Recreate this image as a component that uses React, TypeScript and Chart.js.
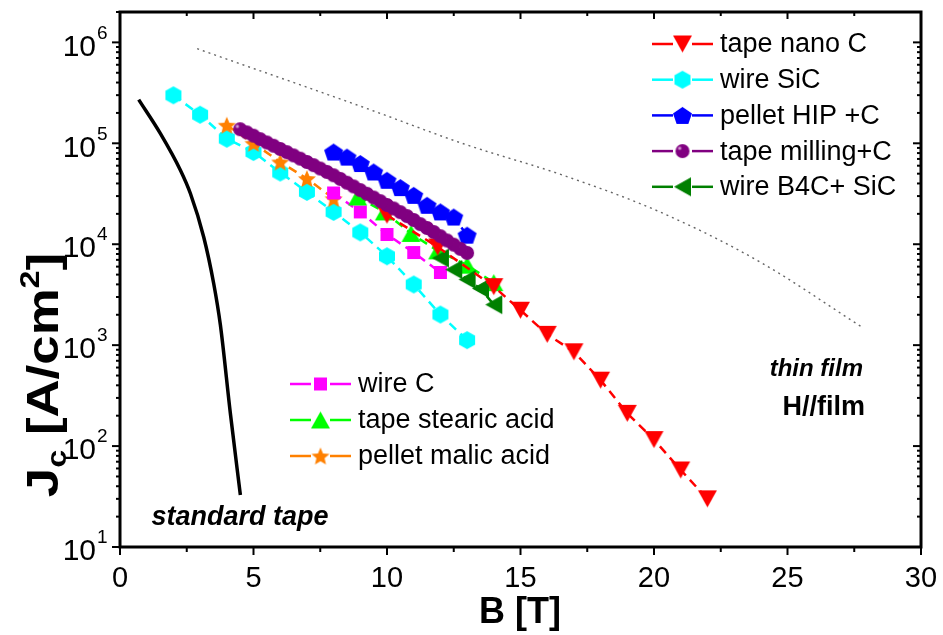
import React, { useEffect, useRef } from 'react';
import { Chart, registerables } from 'chart.js';
Chart.register(...registerables);

// ---------- data ----------
const tapeNanoC_B = [10, 11.9, 14, 15, 16, 17, 18, 19, 20, 21, 22];
const tapeNanoC_J = [19400, 9400, 3800, 2220, 1280, 860, 450, 211, 116, 58, 30];

const wireSiC_B = [2, 3, 4, 5, 6, 7, 8, 9, 10, 11, 12, 13];
const wireSiC_J = [299000, 192000, 111000, 82000, 51300, 33000, 20900, 13100, 7600, 3990, 2010, 1120];

const pelletHIP_B = [8, 8.5, 9, 9.5, 10, 10.5, 11, 11.5, 12, 12.5, 13];
const pelletHIP_J = [82000, 73000, 63000, 52000, 43000, 36400, 30500, 24300, 20900, 18600, 12300];

// measured from high to low field
const tapeMilling_B = [13, 12.75, 12.5, 12.25, 12, 11.75, 11.5, 11.25, 11, 10.75, 10.5, 10.25, 10, 9.75, 9.5, 9.25, 9, 8.75, 8.5, 8.25, 8, 7.75, 7.5, 7.25, 7, 6.75, 6.5, 6.25, 6, 5.75, 5.5, 5.25, 5, 4.75, 4.5];
const tapeMilling_J = [8200, 9000, 9900, 10900, 12000, 13200, 14500, 15800, 17400, 19000, 20800, 22600, 24500, 26700, 29000, 31600, 34400, 37400, 40700, 44400, 48200, 52100, 56200, 60700, 65300, 70500, 75900, 81700, 87900, 94600, 101900, 109900, 119100, 128200, 138000];

const wireB4C_B = [12, 12.5, 13, 13.5, 14];
const wireB4C_J = [7300, 5600, 4470, 3640, 2520];

const wireC_B = [8, 9, 10, 11, 12];
const wireC_J = [32200, 20900, 12500, 8280, 5250];

const tapeStearic_B = [8.9, 9.9, 10.9, 11.9, 13, 14];
const tapeStearic_J = [29400, 20900, 12800, 8600, 6200, 4160];

const pelletMalic_B = [4, 5, 6, 7, 8];
const pelletMalic_J = [151000, 100000, 65300, 44700, 28300];

const standardTape_B = [0.7, 1.515, 2.263, 2.637, 3.135, 3.509, 3.76, 4.134, 4.508];
const standardTape_J = [271000, 124700, 54100, 31800, 11800, 4080, 1580, 210, 32.7];

const thinFilm_B = [2.89, 9.25, 12.86, 16.6, 20.22, 23.96, 27.77];
const thinFilm_J = [866000, 221000, 99000, 48200, 20900, 6700, 1520];

const xMajorTicks = [0, 5, 10, 15, 20, 25, 30];
const xMinorTicks = [2.5, 7.5, 12.5, 17.5, 22.5, 27.5];
const yDecadeExps = [1, 2, 3, 4, 5, 6];

const FONT = "'Liberation Sans', Arial, Helvetica, sans-serif";

// ---------- marker factory ----------
function polyMarker(pts: number[][], fill: string, w: number, h: number): HTMLCanvasElement {
  const pad = 2;
  const c = document.createElement('canvas');
  c.width = Math.ceil(w + pad * 2);
  c.height = Math.ceil(h + pad * 2);
  const ctx = c.getContext('2d')!;
  const xs = pts.map(p => p[0]);
  const ys = pts.map(p => p[1]);
  const minX = Math.min(...xs), maxX = Math.max(...xs);
  const minY = Math.min(...ys), maxY = Math.max(...ys);
  const sx = w / (maxX - minX), sy = h / (maxY - minY);
  const cx = c.width / 2, cy = c.height / 2;
  ctx.fillStyle = fill;
  ctx.beginPath();
  pts.forEach((p, i) => {
    const X = cx + (p[0] - (minX + maxX) / 2) * sx;
    const Y = cy + (p[1] - (minY + maxY) / 2) * sy;
    if (i === 0) ctx.moveTo(X, Y); else ctx.lineTo(X, Y);
  });
  ctx.closePath();
  ctx.fill();
  return c;
}
function regular(n: number, startDeg: number): number[][] {
  const out: number[][] = [];
  for (let k = 0; k < n; k++) {
    const a = (startDeg + (360 / n) * k) * Math.PI / 180;
    out.push([Math.cos(a), Math.sin(a)]);
  }
  return out;
}
function starPts(inner: number): number[][] {
  const out: number[][] = [];
  for (let k = 0; k < 10; k++) {
    const a = (-90 + 36 * k) * Math.PI / 180;
    const r = k % 2 === 0 ? 1 : inner;
    out.push([r * Math.cos(a), r * Math.sin(a)]);
  }
  return out;
}
function sphere(color: string, d: number): HTMLCanvasElement {
  const c = document.createElement('canvas');
  c.width = d + 2; c.height = d + 2;
  const ctx = c.getContext('2d')!;
  const r = d / 2, cx = c.width / 2, cy = c.height / 2;
  ctx.fillStyle = color;
  ctx.beginPath();
  ctx.arc(cx, cy, r, 0, Math.PI * 2);
  ctx.fill();
  const g = ctx.createRadialGradient(cx - r * 0.4, cy - r * 0.4, 0, cx - r * 0.4, cy - r * 0.4, r * 0.35);
  g.addColorStop(0, 'rgba(235,205,235,1)');
  g.addColorStop(1, 'rgba(235,205,235,0)');
  ctx.fillStyle = g;
  ctx.beginPath();
  ctx.arc(cx, cy, r, 0, Math.PI * 2);
  ctx.fill();
  return c;
}

const RED = '#ff0000', CYAN = '#00ffff', BLUE = '#0000ff', PURPLE = '#800080',
  DGREEN = '#008000', MAGENTA = '#ff00ff', LGREEN = '#00ff00', ORANGE = '#ff8000';

function xy(xs: number[], ys: number[]) {
  return xs.map((x, i) => ({ x, y: ys[i] }));
}

export default function App() {
  const ref = useRef<HTMLCanvasElement>(null);
  useEffect(() => {
    const m = {
      triDown: polyMarker([[-1, -1], [1, -1], [0, 1]], RED, 19, 17),
      hex: polyMarker(regular(6, -90), CYAN, 16, 18),
      pent: polyMarker(regular(5, -90), BLUE, 19, 17),
      ball: sphere(PURPLE, 14),
      triLeft: polyMarker([[-1, 0], [1, -1], [1, 1]], DGREEN, 17, 19),
      square: polyMarker([[-1, -1], [1, -1], [1, 1], [-1, 1]], MAGENTA, 13, 13),
      triUp: polyMarker([[0, -1], [1, 1], [-1, 1]], LGREEN, 19, 17),
      star: polyMarker(starPts(0.45), ORANGE, 18, 17),
    };
    const dash = [9, 6];
    const ds = (label: string, xs: number[], ys: number[], color: string, marker: HTMLCanvasElement) => ({
      label, data: xy(xs, ys), showLine: true, borderColor: color, backgroundColor: color,
      borderWidth: 2.5, borderDash: dash, pointStyle: marker, pointRadius: 6, tension: 0,
    });
    const datasets: any[] = [
      ds('tape milling+C', tapeMilling_B, tapeMilling_J, PURPLE, m.ball),
      ds('tape nano C', tapeNanoC_B, tapeNanoC_J, RED, m.triDown),
      ds('wire B4C+ SiC', wireB4C_B, wireB4C_J, DGREEN, m.triLeft),
      ds('pellet HIP +C', pelletHIP_B, pelletHIP_J, BLUE, m.pent),
      ds('tape stearic acid', tapeStearic_B, tapeStearic_J, LGREEN, m.triUp),
      ds('wire C', wireC_B, wireC_J, MAGENTA, m.square),
      ds('pellet malic acid', pelletMalic_B, pelletMalic_J, ORANGE, m.star),
      ds('wire SiC', wireSiC_B, wireSiC_J, CYAN, m.hex),
      {
        label: 'standard tape', data: xy(standardTape_B, standardTape_J), showLine: true,
        borderColor: '#000', borderWidth: 3.5, pointRadius: 0, cubicInterpolationMode: 'monotone',
      },
      {
        label: 'thin film', data: xy(thinFilm_B, thinFilm_J), showLine: true,
        borderColor: '#666', borderWidth: 1.4, borderDash: [2, 4], pointRadius: 0,
        cubicInterpolationMode: 'monotone',
      },
    ];

    const legendTop = [
      { label: 'tape nano C', color: RED, marker: m.triDown },
      { label: 'wire SiC', color: CYAN, marker: m.hex },
      { label: 'pellet HIP +C', color: BLUE, marker: m.pent },
      { label: 'tape milling+C', color: PURPLE, marker: m.ball },
      { label: 'wire B4C+ SiC', color: DGREEN, marker: m.triLeft },
    ];
    const legendBottom = [
      { label: 'wire C', color: MAGENTA, marker: m.square },
      { label: 'tape stearic acid', color: LGREEN, marker: m.triUp },
      { label: 'pellet malic acid', color: ORANGE, marker: m.star },
    ];

    const decor = {
      id: 'decor',
      afterDraw(chart: any) {
        const { ctx, chartArea: a, scales } = chart;
        const x = scales.x, y = scales.y;
        ctx.save();
        ctx.strokeStyle = '#000';
        ctx.lineCap = 'butt';
        const line = (x1: number, y1: number, x2: number, y2: number) => {
          ctx.beginPath(); ctx.moveTo(x1, y1); ctx.lineTo(x2, y2); ctx.stroke();
        };
        // frame
        ctx.lineWidth = 3;
        ctx.strokeRect(a.left, a.top, a.right - a.left, a.bottom - a.top);
        ctx.lineWidth = 2;
        xMajorTicks.forEach(v => {
          const px = x.getPixelForValue(v);
          line(px, a.bottom, px, a.bottom + 8);
          line(px, a.top, px, a.top + 7);
        });
        xMinorTicks.forEach(v => {
          const px = x.getPixelForValue(v);
          line(px, a.bottom, px, a.bottom + 5);
          line(px, a.top, px, a.top + 4);
        });
        yDecadeExps.forEach(e => {
          const py = y.getPixelForValue(Math.pow(10, e));
          line(a.left - 8, py, a.left, py);
          line(a.right, py, a.right - 8, py);
          for (let k = 2; k <= 9; k++) {
            const v = k * Math.pow(10, e);
            if (v > y.max) break;
            const pm = y.getPixelForValue(v);
            line(a.left - 4, pm, a.left, pm);
            line(a.right, pm, a.right - 4, pm);
          }
        });
        // tick labels
        ctx.fillStyle = '#000';
        ctx.font = `29px ${FONT}`;
        ctx.textAlign = 'center';
        ctx.textBaseline = 'middle';
        xMajorTicks.forEach(v => {
          ctx.fillText(String(v), x.getPixelForValue(v), a.bottom + 32);
        });
        yDecadeExps.forEach(e => {
          const py = y.getPixelForValue(Math.pow(10, e));
          ctx.font = `30px ${FONT}`;
          ctx.textAlign = 'right';
          ctx.fillText('10', 96, py + 5);
          ctx.font = `19px ${FONT}`;
          ctx.textAlign = 'left';
          ctx.fillText(String(e), 97, py - 9);
        });
        // axis titles
        ctx.font = `bold 36px ${FONT}`;
        ctx.textAlign = 'center';
        ctx.fillText('B [T]', 520, 613);
        // y title rotated (slightly widened along reading direction)
        ctx.save();
        ctx.translate(58, 375);
        ctx.rotate(-Math.PI / 2);
        ctx.scale(1.2, 1);
        ctx.textBaseline = 'alphabetic';
        ctx.textAlign = 'left';
        const big = `bold 44px ${FONT}`, small = `bold 27px ${FONT}`;
        const parts: [string, string, number][] = [
          ['J', big, 0], ['c', small, 8], [' [A/cm', big, 0], ['2', small, -19], [']', big, 0],
        ];
        let total = 0;
        parts.forEach(([t, f]) => { ctx.font = f; total += ctx.measureText(t).width; });
        let cx = -total / 2;
        parts.forEach(([t, f, dy]) => { ctx.font = f; ctx.fillText(t, cx, dy); cx += ctx.measureText(t).width; });
        ctx.restore();

        // annotations
        ctx.textAlign = 'center';
        ctx.font = `italic bold 27px ${FONT}`;
        ctx.fillText('standard tape', 240, 518);
        ctx.textAlign = 'right';
        ctx.font = `italic bold 24px ${FONT}`;
        ctx.fillText('thin film', 863, 369);
        ctx.font = `bold 27px ${FONT}`;
        ctx.fillText('H//film', 865, 408);

        // legends
        const drawLegend = (items: any[], x0: number, y0: number, step: number) => {
          items.forEach((it, i) => {
            const yy = y0 + i * step;
            ctx.strokeStyle = it.color;
            ctx.lineWidth = 2.5;
            line(x0, yy, x0 + 21, yy);
            line(x0 + 40, yy, x0 + 61, yy);
            const mk = it.marker as HTMLCanvasElement;
            ctx.drawImage(mk, x0 + 30.5 - mk.width / 2, yy - mk.height / 2);
            ctx.fillStyle = '#000';
            ctx.font = `27px ${FONT}`;
            ctx.textAlign = 'left';
            ctx.textBaseline = 'middle';
            ctx.fillText(it.label, x0 + 68, yy + 1);
          });
        };
        drawLegend(legendTop, 652, 44, 35.7);
        drawLegend(legendBottom, 290, 384, 36);
        ctx.restore();
      },
    };

    const chart = new Chart(ref.current!, {
      type: 'scatter',
      data: { datasets },
      options: {
        animation: false,
        responsive: false,
        devicePixelRatio: 1,
        layout: { padding: { left: 120, right: 22, top: 12, bottom: 88 } },
        plugins: { legend: { display: false }, tooltip: { enabled: false } },
        scales: {
          x: { type: 'linear', min: 0, max: 30, display: false },
          y: { type: 'logarithmic', min: 10, max: 2000000, display: false },
        },
      },
      plugins: [decor],
    } as any);
    return () => chart.destroy();
  }, []);
  return (
    <div style={{ position: 'fixed', left: 0, top: 0, width: 943, height: 635, background: '#fff' }}>
      <canvas ref={ref} width={943} height={635} style={{ width: 943, height: 635, display: 'block' }} />
    </div>
  );
}
